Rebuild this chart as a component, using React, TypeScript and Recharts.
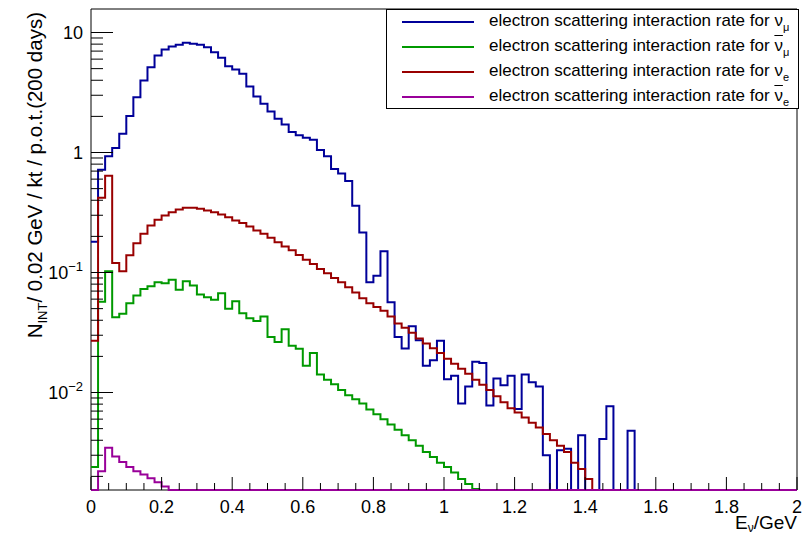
import { LineChart, Line, XAxis, YAxis, ReferenceArea } from 'recharts';

// 100 bins of 0.02 GeV, values per bin (0 = empty bin)
const BIN_WIDTH = 0.02;

const numuRate = [
  0.18, 0.72, 0.93, 1.09, 1.43, 2.01, 2.89, 3.98, 5.14, 6.43,
  7.22, 7.64, 7.89, 8.2, 8.05, 7.89, 7.55, 6.85, 6.15, 5.24,
  4.92, 4.53, 3.55, 2.93, 2.55, 2.2, 1.91, 1.71, 1.48, 1.39,
  1.33, 1.28, 1.05, 0.93, 0.73, 0.67, 0.58, 0.36, 0.215, 0.083,
  0.094, 0.15, 0.0566, 0.029, 0.0233, 0.0356, 0.0273, 0.0167, 0.0186, 0.027,
  0.0129, 0.0138, 0.0081, 0.0112, 0.018, 0.0176, 0.0078, 0.0131, 0.0115, 0.0138,
  0.0073, 0.0141, 0.0122, 0.0112, 0.003, 0, 0.0033, 0.0034, 0, 0.0044,
  0, 0, 0.0041, 0.0077, 0, 0, 0.0048, 0, 0, 0,
  0, 0, 0, 0, 0, 0, 0, 0, 0, 0,
  0, 0, 0, 0, 0, 0, 0, 0, 0, 0,
];

const numubarRate = [
  0.0024, 0.057, 0.1026, 0.0424, 0.0453, 0.0555, 0.0643, 0.073, 0.0769, 0.083,
  0.0815, 0.0869, 0.0717, 0.0847, 0.078, 0.0656, 0.0623, 0.0592, 0.0673, 0.0498,
  0.0577, 0.0458, 0.0415, 0.0395, 0.043, 0.029, 0.0264, 0.0337, 0.0245, 0.0232,
  0.0167, 0.0213, 0.0141, 0.0128, 0.0117, 0.0105, 0.0095, 0.0088, 0.0081, 0.0072,
  0.0066, 0.006, 0.0054, 0.0049, 0.0044, 0.004, 0.0036, 0.0032, 0.0029, 0.0026,
  0.0024, 0.00215, 0.0019, 0.00173, 0.00157, 0, 0, 0, 0, 0,
  0, 0, 0, 0, 0, 0, 0, 0, 0, 0,
  0, 0, 0, 0, 0, 0, 0, 0, 0, 0,
  0, 0, 0, 0, 0, 0, 0, 0, 0, 0,
  0, 0, 0, 0, 0, 0, 0, 0, 0, 0,
];

const nueRate = [
  0.027, 0.42, 0.64, 0.12, 0.1026, 0.139, 0.175, 0.21, 0.246, 0.275,
  0.299, 0.318, 0.335, 0.346, 0.346, 0.34, 0.329, 0.318, 0.304, 0.289,
  0.271, 0.258, 0.242, 0.224, 0.21, 0.195, 0.179, 0.165, 0.153, 0.14,
  0.128, 0.118, 0.107, 0.0987, 0.09, 0.083, 0.0755, 0.068, 0.061, 0.0555,
  0.0515, 0.048, 0.043, 0.0375, 0.0347, 0.0315, 0.0282, 0.0256, 0.0234, 0.0213,
  0.0191, 0.0174, 0.0158, 0.0143, 0.0128, 0.0116, 0.0105, 0.0093, 0.0083, 0.0074,
  0.0068, 0.0062, 0.0056, 0.0051, 0.0045, 0.004, 0.0036, 0.0032, 0.0026, 0.0023,
  0.0019, 0, 0, 0, 0, 0, 0, 0, 0, 0,
  0, 0, 0, 0, 0, 0, 0, 0, 0, 0,
  0, 0, 0, 0, 0, 0, 0, 0, 0, 0,
];

const nuebarRate = [
  0, 0.00221, 0.00346, 0.00293, 0.00263, 0.00239, 0.00221, 0.00207, 0.00193, 0.00179,
  0.00165, 0, 0, 0, 0, 0, 0, 0, 0, 0,
  0, 0, 0, 0, 0, 0, 0, 0, 0, 0,
  0, 0, 0, 0, 0, 0, 0, 0, 0, 0,
  0, 0, 0, 0, 0, 0, 0, 0, 0, 0,
  0, 0, 0, 0, 0, 0, 0, 0, 0, 0,
  0, 0, 0, 0, 0, 0, 0, 0, 0, 0,
  0, 0, 0, 0, 0, 0, 0, 0, 0, 0,
  0, 0, 0, 0, 0, 0, 0, 0, 0, 0,
  0, 0, 0, 0, 0, 0, 0, 0, 0, 0,
];

const Y_MIN = 0.00154;
const Y_MAX = 15.7;

const X_MAJOR = [0, 0.2, 0.4, 0.6, 0.8, 1, 1.2, 1.4, 1.6, 1.8, 2];
const X_LABELS = ['0', '0.2', '0.4', '0.6', '0.8', '1', '1.2', '1.4', '1.6', '1.8', '2'];
const X_TICKS = Array.from({ length: 41 }, (_, i) => +(i * 0.05).toFixed(2));

const Y_MAJOR = [0.01, 0.1, 1, 10];
const Y_BASE = ['10', '10', '1', '10'];
const Y_EXP = ['\u22122', '\u22121', '', ''];
const Y_MINOR = [
  0.002, 0.003, 0.004, 0.005, 0.006, 0.007, 0.008, 0.009,
  0.02, 0.03, 0.04, 0.05, 0.06, 0.07, 0.08, 0.09,
  0.2, 0.3, 0.4, 0.5, 0.6, 0.7, 0.8, 0.9,
  2, 3, 4, 5, 6, 7, 8, 9,
];
const Y_TICKS = [...Y_MINOR, ...Y_MAJOR].sort((a, b) => a - b);

const series = [
  { key: 'numu', data: numuRate, color: '#000099', bar: false, sub: 'μ' },
  { key: 'numubar', data: numubarRate, color: '#009900', bar: true, sub: 'μ' },
  { key: 'nue', data: nueRate, color: '#990000', bar: false, sub: 'e' },
  { key: 'nuebar', data: nuebarRate, color: '#990099', bar: true, sub: 'e' },
];

const FONT = '"Liberation Sans", Arial, Helvetica, sans-serif';

// bin lower edges + closing point at 2.0 for step drawing; empty bins sit on the frame bottom
const chartData = Array.from({ length: numuRate.length + 1 }, (_, i) => {
  const row: Record<string, number> = { e: +(i * BIN_WIDTH).toFixed(2) };
  series.forEach((s) => {
    const v = s.data[Math.min(i, s.data.length - 1)];
    row[s.key] = v > 0 ? v : Y_MIN;
  });
  return row;
});

const XTick = ({ x, y, payload }: any) => {
  const idx = X_MAJOR.findIndex((t) => Math.abs(t - payload.value) < 1e-9);
  const major = idx >= 0;
  return (
    <g>
      <line x1={x} x2={x} y1={y} y2={y - (major ? 13 : 7)} stroke="#000" />
      {major && (
        <text x={x} y={y + 23} textAnchor="middle" fontSize={18} fontFamily={FONT} fill="#000">
          {X_LABELS[idx]}
        </text>
      )}
    </g>
  );
};

const YTick = ({ x, y, payload }: any) => {
  const idx = Y_MAJOR.indexOf(payload.value);
  const major = idx >= 0;
  return (
    <g>
      <line x1={x} x2={x + (major ? 22 : 12)} y1={y} y2={y} stroke="#000" />
      {major && (
        <text x={x - 8} y={y + 6} textAnchor="end" fontSize={18} fontFamily={FONT} fill="#000">
          {Y_BASE[idx]}
          {Y_EXP[idx] && (
            <tspan fontSize={13} dy={-8}>
              {Y_EXP[idx]}
            </tspan>
          )}
        </text>
      )}
    </g>
  );
};

const YTitle = () => (
  <text
    x={42}
    y={12}
    transform="rotate(-90, 42, 12)"
    textAnchor="end"
    fontSize={20.5}
    fontFamily={FONT}
    fill="#000"
  >
    N
    <tspan fontSize={13} dy={5}>
      INT
    </tspan>
    <tspan dy={-5}>/ 0.02 GeV / kt / p.o.t.(200 days)</tspan>
  </text>
);

const XTitle = () => (
  <text x={797} y={529} textAnchor="end" fontSize={19} fontFamily={FONT} fill="#000">
    E
    <tspan fontSize={12} dy={3}>
      ν
    </tspan>
    <tspan dy={-3}>/GeV</tspan>
  </text>
);

const RateLegend = () => (
  <div
    style={{
      position: 'absolute',
      left: 386,
      top: 9,
      width: 413,
      height: 100,
      border: '1px solid #000',
      boxSizing: 'border-box',
      background: '#fff',
      fontFamily: FONT,
      fontSize: 17,
      color: '#000',
    }}
  >
    {series.map((s, i) => (
      <div
        key={s.key}
        style={{ position: 'absolute', left: 15, top: 11.7 + 25 * i - 12, height: 24, width: 395 }}
      >
        <div
          style={{ position: 'absolute', left: 0, top: 11, width: 72, height: 2, background: s.color }}
        />
        <div style={{ position: 'absolute', left: 87, top: 1, whiteSpace: 'nowrap', lineHeight: '20px' }}>
          electron scattering interaction rate for{' '}
          <span style={{ textDecoration: s.bar ? 'overline' : 'none' }}>ν</span>
          <span style={{ fontSize: 11, position: 'relative', top: 5 }}>{s.sub}</span>
        </div>
      </div>
    ))}
  </div>
);

export default function App() {
  return (
    <div style={{ position: 'absolute', left: 0, top: 0, width: 803, height: 534, background: '#fff' }}>
      <LineChart width={803} height={534} data={chartData} margin={{ top: 9, right: 6, bottom: 0, left: 0 }}>
        <XAxis
          dataKey="e"
          type="number"
          domain={[0, 2]}
          ticks={X_TICKS}
          interval={0}
          height={44}
          axisLine={false}
          tickLine={false}
          tickSize={0}
          tickMargin={0}
          tick={<XTick />}
          label={XTitle}
        />
        <YAxis
          type="number"
          scale="log"
          domain={[Y_MIN, Y_MAX]}
          ticks={Y_TICKS}
          interval={0}
          width={91}
          axisLine={false}
          tickLine={false}
          tickSize={0}
          tickMargin={0}
          tick={<YTick />}
          label={YTitle}
        />
        <ReferenceArea x1={0} x2={2} y1={Y_MIN} y2={Y_MAX} fill="none" stroke="#000" strokeWidth={1} />
        {series.map((s) => (
          <Line
            key={s.key}
            type="stepAfter"
            dataKey={s.key}
            stroke={s.color}
            strokeWidth={2}
            dot={false}
            activeDot={false}
            isAnimationActive={false}
          />
        ))}
      </LineChart>
      <RateLegend />
    </div>
  );
}
